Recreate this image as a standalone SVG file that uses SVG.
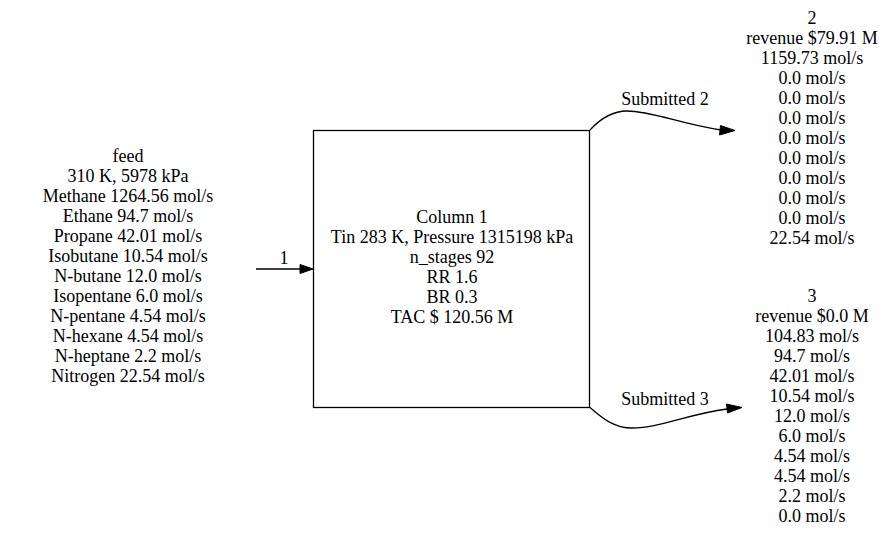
<svg xmlns="http://www.w3.org/2000/svg" width="895" height="539" viewBox="0 0 895 539">
<style>
text{font-family:"Liberation Serif","Times New Roman",serif;font-size:18px;fill:#000;text-anchor:middle}
.e{fill:none;stroke:#000;stroke-width:1.3}
.ah{fill:#000;stroke:#000;stroke-width:1}
</style>
<rect width="895" height="539" fill="#fff"/>
<g id="feed">
<text x="128" y="162">feed</text>
<text x="128" y="182">310 K, 5978 kPa</text>
<text x="128" y="202">Methane 1264.56 mol/s</text>
<text x="128" y="222">Ethane 94.7 mol/s</text>
<text x="128" y="242">Propane 42.01 mol/s</text>
<text x="128" y="262">Isobutane 10.54 mol/s</text>
<text x="128" y="282">N-butane 12.0 mol/s</text>
<text x="128" y="302">Isopentane 6.0 mol/s</text>
<text x="128" y="322">N-pentane 4.54 mol/s</text>
<text x="128" y="342">N-hexane 4.54 mol/s</text>
<text x="128" y="362">N-heptane 2.2 mol/s</text>
<text x="128" y="382">Nitrogen 22.54 mol/s</text>
</g>
<g id="column1">
<rect x="313.5" y="130.5" width="276" height="277" fill="none" stroke="#000" stroke-width="1.3"/>
<text x="452" y="223">Column 1</text>
<text x="452" y="243">Tin 283 K, Pressure 1315198 kPa</text>
<text x="452" y="263">n_stages 92</text>
<text x="452" y="283">RR 1.6</text>
<text x="452" y="303">BR 0.3</text>
<text x="452" y="323">TAC $ 120.56 M</text>
</g>
<g id="product2">
<text x="812" y="24">2</text>
<text x="812" y="44">revenue $79.91 M</text>
<text x="812" y="64">1159.73 mol/s</text>
<text x="812" y="84">0.0 mol/s</text>
<text x="812" y="104">0.0 mol/s</text>
<text x="812" y="124">0.0 mol/s</text>
<text x="812" y="144">0.0 mol/s</text>
<text x="812" y="164">0.0 mol/s</text>
<text x="812" y="184">0.0 mol/s</text>
<text x="812" y="204">0.0 mol/s</text>
<text x="812" y="224">0.0 mol/s</text>
<text x="812" y="244">22.54 mol/s</text>
</g>
<g id="product3">
<text x="812" y="302">3</text>
<text x="812" y="322">revenue $0.0 M</text>
<text x="812" y="342">104.83 mol/s</text>
<text x="812" y="362">94.7 mol/s</text>
<text x="812" y="382">42.01 mol/s</text>
<text x="812" y="402">10.54 mol/s</text>
<text x="812" y="422">12.0 mol/s</text>
<text x="812" y="442">6.0 mol/s</text>
<text x="812" y="462">4.54 mol/s</text>
<text x="812" y="482">4.54 mol/s</text>
<text x="812" y="502">2.2 mol/s</text>
<text x="812" y="522">0.0 mol/s</text>
</g>
<g id="connectors">
<g id="e1">
<path class="e" d="M256,269 L300,269"/>
<polygon class="ah" points="300,264.5 313,269 300,273.5"/>
<text x="284" y="264">1</text>
</g>
<g id="e2">
<path class="e" d="M590,130 C601,118 612,111 627,111 C652,111 680,124 721,130"/>
<polygon class="ah" points="720.5,125.5 735,130.5 719.5,135"/>
<text x="665" y="105">Submitted 2</text>
</g>
<g id="e3">
<path class="e" d="M590,407.5 C603,419 615,428 632,428 C660,428 688,414 727,409"/>
<polygon class="ah" points="726.5,404 742,407.5 727.5,413"/>
<text x="665" y="405">Submitted 3</text>
</g>
</g>
</svg>
